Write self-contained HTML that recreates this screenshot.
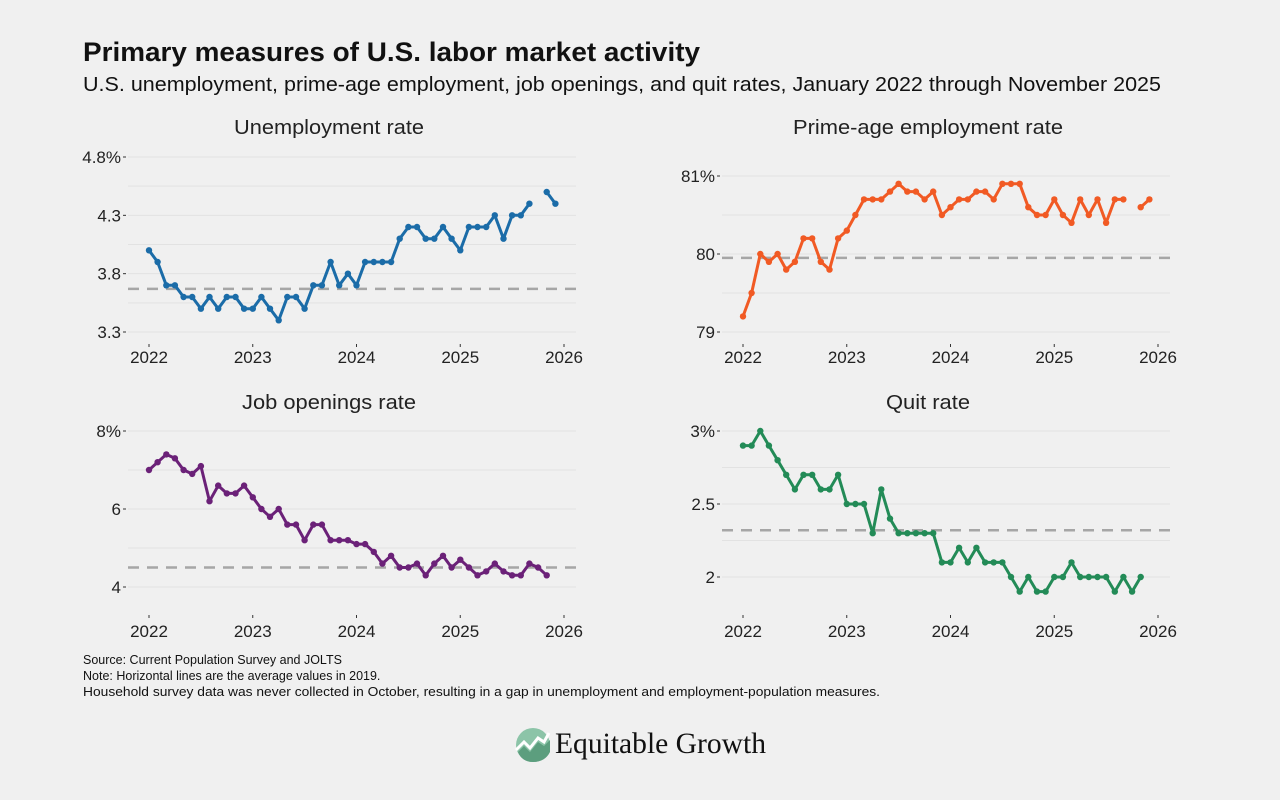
<!DOCTYPE html>
<html><head><meta charset="utf-8"><style>
html,body{margin:0;padding:0;background:#f0f0f0;}
svg{display:block;font-family:"Liberation Sans",sans-serif;}
</style></head><body>
<svg id="s" width="1280" height="800" viewBox="0 0 1280 800" xmlns="http://www.w3.org/2000/svg">
<rect width="1280" height="800" fill="#f0f0f0"/>
<text x="83" y="61" font-size="27" font-weight="bold" fill="#111" textLength="617" lengthAdjust="spacingAndGlyphs">Primary measures of U.S. labor market activity</text>
<text x="83" y="91" font-size="20" fill="#111" textLength="1078" lengthAdjust="spacingAndGlyphs">U.S. unemployment, prime-age employment, job openings, and quit rates, January 2022 through November 2025</text>
<text x="329" y="134" font-size="20" fill="#222" text-anchor="middle" textLength="190" lengthAdjust="spacingAndGlyphs">Unemployment rate</text>
<text x="928" y="134" font-size="20" fill="#222" text-anchor="middle" textLength="270" lengthAdjust="spacingAndGlyphs">Prime-age employment rate</text>
<text x="329" y="409" font-size="20" fill="#222" text-anchor="middle" textLength="174" lengthAdjust="spacingAndGlyphs">Job openings rate</text>
<text x="928" y="409" font-size="20" fill="#222" text-anchor="middle" textLength="84" lengthAdjust="spacingAndGlyphs">Quit rate</text>
<g id="g"></g>
<g font-size="12.5" fill="#111">
<text x="83" y="664">Source: Current Population Survey and JOLTS</text>
<text x="83" y="680">Note: Horizontal lines are the average values in 2019.</text>
<text x="83" y="696" textLength="797" lengthAdjust="spacingAndGlyphs">Household survey data was never collected in October, resulting in a gap in unemployment and employment-population measures.</text>
</g>
<circle cx="533" cy="745" r="17" fill="#8cc4a8"/>
<path d="M516,750 L524,742 L530,748 L538,738 L544,742 L549,733" stroke="#fff" stroke-width="3" fill="none"/>
<path d="M518,752 L524,746 L530,752 L538,742 L544,746 L550,740 L550,752 Q545,762 533,762 Q522,762 518,752Z" fill="#5c9e7e"/>
<text x="555" y="753" font-family="'Liberation Serif',serif" font-size="30" fill="#111" textLength="211" lengthAdjust="spacingAndGlyphs">Equitable Growth</text>
</svg>
<script>
var N=null;
var panels=[
{x0:149,x1:576,xa:128,top:146,bot:343,color:"#1b6ca8",lab:355,
 ymap:function(v){return 157+(4.8-v)*116.67;},ticks:[[4.8,"4.8%"],[4.3,"4.3"],[3.8,"3.8"],[3.3,"3.3"]],grid:[4.8,4.55,4.3,4.05,3.8,3.55,3.3],avg:3.67,
 d:[4.0,3.9,3.7,3.7,3.6,3.6,3.5,3.6,3.5,3.6,3.6,3.5, 3.5,3.6,3.5,3.4,3.6,3.6,3.5,3.7,3.7,3.9,3.7,3.8, 3.7,3.9,3.9,3.9,3.9,4.1,4.2,4.2,4.1,4.1,4.2,4.1, 4.0,4.2,4.2,4.2,4.3,4.1,4.3,4.3,4.4,N,4.5,4.4]},
{x0:743,x1:1170,xa:722,top:146,bot:343,color:"#f15a24",lab:355,
 ymap:function(v){return 176+(81-v)*78;},ticks:[[81,"81%"],[80,"80"],[79,"79"]],grid:[81,80.5,80,79.5,79],avg:79.95,
 d:[79.2,79.5,80.0,79.9,80.0,79.8,79.9,80.2,80.2,79.9,79.8,80.2, 80.3,80.5,80.7,80.7,80.7,80.8,80.9,80.8,80.8,80.7,80.8,80.5, 80.6,80.7,80.7,80.8,80.8,80.7,80.9,80.9,80.9,80.6,80.5,80.5, 80.7,80.5,80.4,80.7,80.5,80.7,80.4,80.7,80.7,N,80.6,80.7]},
{x0:149,x1:576,xa:128,top:420,bot:614,color:"#6b2178",lab:629,
 ymap:function(v){return 431+(8-v)*39;},ticks:[[8,"8%"],[6,"6"],[4,"4"]],grid:[8,7,6,5,4],avg:4.5,
 d:[7.0,7.2,7.4,7.3,7.0,6.9,7.1,6.2,6.6,6.4,6.4,6.6, 6.3,6.0,5.8,6.0,5.6,5.6,5.2,5.6,5.6,5.2,5.2,5.2, 5.1,5.1,4.9,4.6,4.8,4.5,4.5,4.6,4.3,4.6,4.8,4.5, 4.7,4.5,4.3,4.4,4.6,4.4,4.3,4.3,4.6,4.5,4.3]},
{x0:743,x1:1170,xa:722,top:420,bot:614,color:"#238b57",lab:629,
 ymap:function(v){return 431+(3-v)*146;},ticks:[[3,"3%"],[2.5,"2.5"],[2,"2"]],grid:[3,2.75,2.5,2.25,2],avg:2.32,
 d:[2.9,2.9,3.0,2.9,2.8,2.7,2.6,2.7,2.7,2.6,2.6,2.7, 2.5,2.5,2.5,2.3,2.6,2.4,2.3,2.3,2.3,2.3,2.3,2.1, 2.1,2.2,2.1,2.2,2.1,2.1,2.1,2.0,1.9,2.0,1.9,1.9, 2.0,2.0,2.1,2.0,2.0,2.0,2.0,1.9,2.0,1.9,2.0]}
];
var h="";
panels.forEach(function(p){
 var mw=415/48;
 p.grid.forEach(function(v){var y=p.ymap(v);h+='<line x1="'+p.xa+'" x2="'+p.x1+'" y1="'+y+'" y2="'+y+'" stroke="#e2e2e2" stroke-width="1"/>';});
 for(var k=0;k<5;k++){var x=p.x0+k*103.75;
  h+='<line x1="'+x+'" x2="'+x+'" y1="'+(p.bot+1)+'" y2="'+(p.bot+4)+'" stroke="#333" stroke-width="1"/>';
  h+='<text x="'+x+'" y="'+(p.lab+8)+'" font-size="17" fill="#222" text-anchor="middle">'+(2022+k)+'</text>';}
 p.ticks.forEach(function(t){var y=p.ymap(t[0]);h+='<text x="'+(p.xa-7)+'" y="'+(y+6)+'" font-size="17" fill="#222" text-anchor="end">'+t[1]+'</text><line x1="'+(p.xa-5)+'" x2="'+(p.xa-2)+'" y1="'+y+'" y2="'+y+'" stroke="#333"/>';});
 var ya=p.ymap(p.avg);
 h+='<line x1="'+p.xa+'" x2="'+p.x1+'" y1="'+ya+'" y2="'+ya+'" stroke="#a6a6a6" stroke-width="2.5" stroke-dasharray="11,8"/>';
 var path="",pen=false,dots="";
 p.d.forEach(function(v,i){ if(v===null){pen=false;return;}
  var x=(p.x0+i*mw).toFixed(1),y=p.ymap(v).toFixed(1);
  path+=(pen?"L":"M")+x+","+y;pen=true;
  dots+='<circle cx="'+x+'" cy="'+y+'" r="3.2" fill="'+p.color+'"/>';});
 h+='<path d="'+path+'" stroke="'+p.color+'" stroke-width="3" fill="none" stroke-linejoin="round"/>'+dots;
});
document.getElementById("g").innerHTML=h;
</script>
</body></html>
